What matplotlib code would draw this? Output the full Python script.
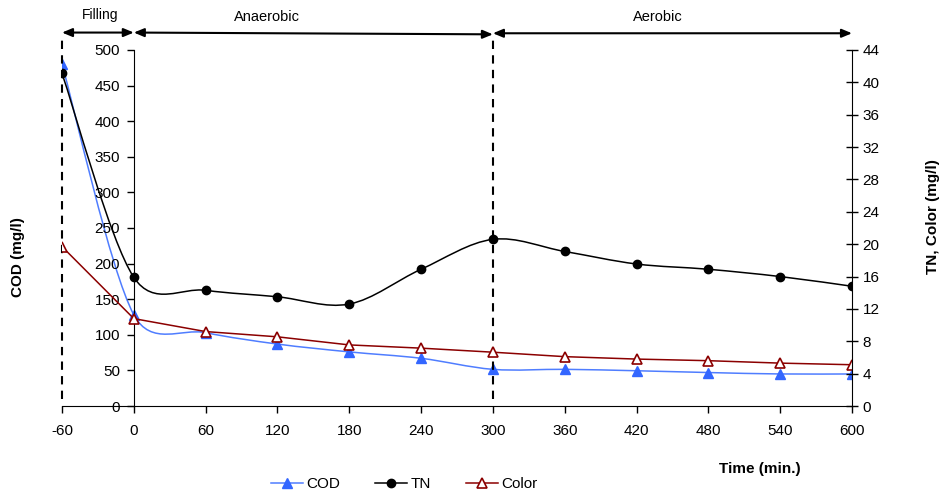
import numpy as np
import matplotlib
matplotlib.use("Agg")
import matplotlib.pyplot as plt
from matplotlib.path import Path
from matplotlib.patches import PathPatch
from matplotlib.lines import Line2D

plt.rcParams['font.family'] = ['Liberation Sans', 'DejaVu Sans']

# ---- data ----
time = [-60, 0, 60, 120, 180, 240, 300, 360, 420, 480, 540, 600]
cod = [480, 128, 103, 87, 76, 67, 51.5, 51.5, 49.5, 47, 45, 45]
tn = [41.1, 15.9, 14.3, 13.5, 12.6, 16.9, 20.6, 19.1, 17.55, 16.9, 16.0, 14.8]
color = [19.7, 10.8, 9.2, 8.55, 7.55, 7.15, 6.65, 6.1, 5.8, 5.6, 5.3, 5.1]

x_ticks = [-60, 0, 60, 120, 180, 240, 300, 360, 420, 480, 540, 600]
cod_ticks = list(range(0, 501, 50))
tn_ticks = list(range(0, 45, 4))

phase_edges = [-60, 0, 300, 600]
phase_names = ['Filling', 'Anaerobic', 'Aerobic']

W, H = 943, 493
fig = plt.figure(figsize=(W / 100, H / 100), dpi=100)
left_px, right_px, top_px, bot_px = 62, 852, 50, 406
ax = fig.add_axes([left_px / W, 1 - bot_px / H, (right_px - left_px) / W, (bot_px - top_px) / H])
ax.patch.set_visible(False)
ax2 = ax.twinx()

ax.set_xlim(-60, 600)
ax.set_ylim(0, 500)
ax2.set_ylim(0, 44)

COD_C = '#3366FF'
COD_L = '#4F7DFF'
TN_C = 'black'
COL_C = '#8B0000'
FS = 11


def smooth_patch(a, xs, ys, col, lw=1.1):
    pts = a.transData.transform(np.column_stack([xs, ys]))
    n = len(pts)
    verts = [pts[0]]
    codes = [Path.MOVETO]

    def ctrl(i, forward):
        p = pts[i]
        pm = pts[i - 1] if i > 0 else p
        pp = pts[i + 1] if i < n - 1 else p
        v = (pp - pm) / 6.0
        vl = np.hypot(*v)
        seg = np.hypot(*((pp - p) if forward else (p - pm)))
        if vl > 0.5 * seg and vl > 0:
            v = v * (0.5 * seg / vl)
        return p + v if forward else p - v

    for i in range(n - 1):
        c1 = ctrl(i, True)
        c2 = ctrl(i + 1, False)
        verts += [c1, c2, pts[i + 1]]
        codes += [Path.CURVE4] * 3
    dverts = a.transData.inverted().transform(np.array(verts))
    patch = PathPatch(Path(dverts, codes), facecolor='none', edgecolor=col, lw=lw,
                      transform=a.transData)
    a.add_patch(patch)


smooth_patch(ax, time, cod, COD_L)
ax.plot(time, cod, ls='none', marker='^', ms=6.5, color=COD_C, mec=COD_C)
smooth_patch(ax2, time, tn, TN_C)
ax2.plot(time, tn, ls='none', marker='o', ms=6, color=TN_C)
ax2.plot(time, color, ls='-', lw=1.1, color=COL_C, marker='^', ms=7, mfc='white',
         mec=COL_C, mew=1.2)

# spines
ax.spines['top'].set_visible(False)
ax.spines['right'].set_visible(False)
ax.spines['left'].set_position(('data', 0))
ax2.spines['top'].set_visible(False)
ax2.spines['left'].set_visible(False)
ax2.spines['bottom'].set_visible(False)

ax.set_xticks(x_ticks)
ax.set_xticklabels([str(v) for v in x_ticks])
ax.set_yticks(cod_ticks)
ax2.set_yticks(tn_ticks)
ax.tick_params(axis='both', direction='out', length=5, width=1.0, labelsize=FS, pad=5)
ax.tick_params(axis='x', pad=8)
ax2.tick_params(axis='y', direction='inout', length=9, width=1.0, labelsize=FS, pad=3)

# phase markers
y_top = 521
for xe in [phase_edges[0], phase_edges[2]]:
    ax.plot([xe, xe], [10, y_top], ls=(0, (4, 3)), color='black', lw=1.5, clip_on=False)

arrow_y = [524.5, 524.5, 523.5]
arrow_y_end = [524.5, 522, 523.5]
label_px = [(100, 15), (267, 17), (658, 17)]
label_fs = [10, 10.5, 10.5]
for i, name in enumerate(phase_names):
    ax.annotate('', xy=(phase_edges[i + 1], arrow_y_end[i]), xytext=(phase_edges[i], arrow_y[i]),
                arrowprops=dict(arrowstyle='<|-|>,head_length=0.6,head_width=0.25', color='black',
                                lw=1.5, shrinkA=0, shrinkB=0),
                annotation_clip=False)
    fig.text(label_px[i][0] / W, 1 - label_px[i][1] / H, name, ha='center', va='center',
             fontsize=label_fs[i])

# axis labels
fig.text(18 / W, 1 - 257 / H, 'COD (mg/l)', rotation=90, ha='center', va='center',
         fontsize=FS, fontweight='bold')
fig.text(933 / W, 1 - 217 / H, 'TN, Color (mg/l)', rotation=90, ha='center', va='center',
         fontsize=FS, fontweight='bold')
fig.text(760 / W, 1 - 469 / H, 'Time (min.)', ha='center', va='center',
         fontsize=FS, fontweight='bold')

handles = [
    Line2D([], [], color=COD_L, lw=1.1, marker='^', ms=6.5, mfc=COD_C, mec=COD_C),
    Line2D([], [], color=TN_C, lw=1.1, marker='o', ms=6, mfc=TN_C),
    Line2D([], [], color=COL_C, lw=1.1, marker='^', ms=7, mfc='white', mec=COL_C, mew=1.2),
]
fig.legend(handles, ['COD', 'TN', 'Color'], loc='center', bbox_to_anchor=(404 / W, 1 - 484 / H),
           ncol=3, frameon=False, fontsize=FS, handlelength=2.1, handletextpad=0.2,
           columnspacing=2.3, borderpad=0)

fig.savefig('out.png', dpi=100)
